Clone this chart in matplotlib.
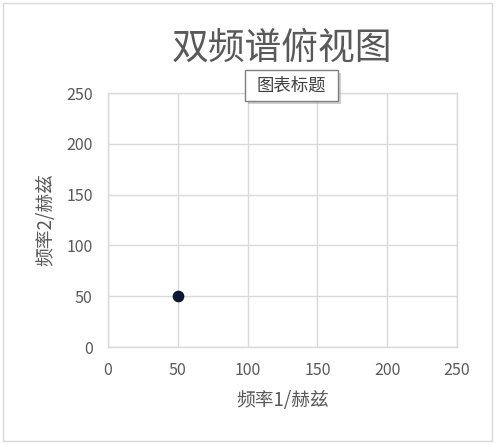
import matplotlib
matplotlib.use("Agg")
import matplotlib.pyplot as plt
from matplotlib.patches import Rectangle

plt.rcParams['font.family'] = ['Noto Sans CJK SC', 'DejaVu Sans']

# data
freq1 = [50]
freq2 = [50]
ticks = [0, 50, 100, 150, 200, 250]

title = "双频谱俯视图"
tip = "图表标题"
xlabel = "频率1/赫兹"
ylabel = "频率2/赫兹"

grey_txt = "#595959"
grid_col = "#d9d9d9"

fig = plt.figure(figsize=(5, 4.45), dpi=100)
ax = fig.add_axes([0.216, 0.220, 0.698, 0.571])

ax.scatter(freq1, freq2, s=55, color="#0b1733", zorder=3)
ax.set_xlim(0, 250)
ax.set_ylim(0, 250)
ax.set_xticks(ticks)
ax.set_yticks(ticks)
ax.grid(True, color=grid_col, lw=1)
ax.set_axisbelow(True)
for sp in ax.spines.values():
    sp.set_color(grid_col)
    sp.set_linewidth(1)
ax.tick_params(length=0, pad=11, labelsize=11.5, labelcolor=grey_txt)
ax.set_xlabel(xlabel, fontsize=13.5, color=grey_txt, labelpad=8)
ax.set_ylabel(ylabel, fontsize=13.5, color=grey_txt, labelpad=7)

# big title
fig.text(0.564, 0.891, title, fontsize=26.5, color=grey_txt, ha="center", va="center")

# "chart title" tooltip box with shadow
shadow = Rectangle((0.496, 0.766), 0.186, 0.07, transform=fig.transFigure,
                   facecolor="#b0b0b0", edgecolor="none", alpha=0.6, zorder=5)
box = Rectangle((0.490, 0.773), 0.186, 0.07, transform=fig.transFigure,
                facecolor="white", edgecolor="#7f7f7f", lw=1, zorder=6)
fig.add_artist(shadow)
fig.add_artist(box)
fig.text(0.583, 0.808, tip, fontsize=12.5, color="#404040", ha="center", va="center",
         zorder=7)

# faint chart border
fig.add_artist(Rectangle((0.006, 0.009), 0.978, 0.985, transform=fig.transFigure,
                         facecolor="none", edgecolor="#d9d9d9", lw=1))

fig.savefig("out.png", dpi=100)
